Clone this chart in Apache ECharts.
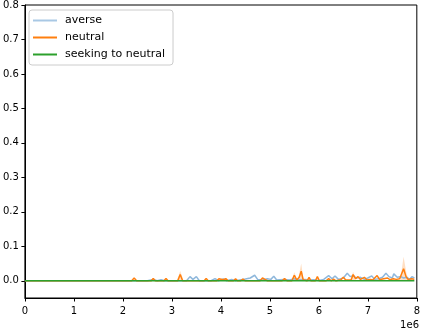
<!DOCTYPE html>
<html>
<head>
<meta charset="utf-8">
<script src="https://cdn.jsdelivr.net/npm/echarts@6/dist/echarts.min.js"></script>
<style>
html, body { margin: 0; padding: 0; background: #fff; }
#chart { width: 423px; height: 332px; }
</style>
</head>
<body>
<div id="chart"></div>
<script>
// x values in units of 1e6
var yTicks = [0, 0.1, 0.2, 0.3, 0.4, 0.5, 0.6, 0.7, 0.8];

var averse = [[0,0],[2.5,0],[2.62,0.004],[2.7,0],[2.78,0.003],[2.85,0],[3.3,0],[3.37,0.012],[3.43,0.004],
	[3.5,0.012],[3.56,0],[3.8,0],[3.88,0.006],[3.95,0],[4.05,0.005],[4.12,0],[4.22,0.004],[4.3,0],
	[4.5,0.005],[4.6,0.008],[4.69,0.016],[4.75,0.004],[4.85,0.002],[4.95,0.006],[5.02,0.004],[5.08,0.013],
	[5.14,0.002],[5.2,0.003],[5.3,0.004],[5.4,0.002],[5.5,0.006],[5.6,0.003],[5.72,0.004],[5.8,0.002],
	[5.9,0.003],[6.0,0.001],[6.1,0.004],[6.2,0.015],[6.27,0.006],[6.33,0.014],[6.4,0.004],[6.5,0.008],
	[6.58,0.022],[6.64,0.012],[6.7,0.015],[6.76,0.008],[6.85,0.01],[6.93,0.004],[7.0,0.008],[7.08,0.014],
	[7.14,0.004],[7.22,0.006],[7.3,0.01],[7.37,0.022],[7.43,0.012],[7.5,0.008],[7.53,0.02],[7.6,0.01],
	[7.67,0.012],[7.73,0.008],[7.8,0.01],[7.85,0.004],[7.9,0.012],[7.95,0.008]];

var neutral = [[0,0],[2.18,0],[2.23,0.008],[2.28,0],[2.58,0],[2.62,0.007],[2.66,0],[2.84,0],[2.88,0.007],
	[2.92,0],[3.12,0],[3.17,0.018],[3.22,0],[3.66,0],[3.7,0.007],[3.74,0],[3.92,0],[3.96,0.006],[4.0,0.008],
	[4.05,0.003],[4.1,0.006],[4.15,0],[4.26,0],[4.3,0.006],[4.34,0],[4.4,0],[4.45,0.005],[4.5,0],[4.8,0],
	[4.85,0.008],[4.9,0.004],[4.95,0],[5.25,0],[5.3,0.006],[5.35,0],[5.45,0],[5.5,0.016],[5.55,0.002],
	[5.6,0.01],[5.64,0.028],[5.68,0.003],[5.76,0],[5.8,0.01],[5.84,0],[5.93,0],[5.97,0.012],[6.01,0],
	[6.15,0],[6.2,0.006],[6.25,0],[6.3,0.005],[6.35,0],[6.45,0.003],[6.5,0.01],[6.55,0.002],[6.66,0.003],
	[6.7,0.018],[6.75,0.006],[6.8,0.012],[6.85,0.004],[6.93,0.01],[6.98,0.002],[7.05,0.004],[7.1,0.002],
	[7.19,0.015],[7.24,0.003],[7.3,0.005],[7.4,0.008],[7.45,0.003],[7.52,0.006],[7.58,0.004],[7.65,0.006],
	[7.73,0.035],[7.78,0.012],[7.82,0.004],[7.9,0.006],[7.95,0.004]];

// upper edge of the shaded band round the neutral line
var neutralBand = [[0,0],[3.1,0],[3.17,0.028],[3.24,0],[5.44,0],[5.5,0.025],[5.56,0],[5.6,0.02],
	[5.64,0.05],[5.69,0],[6.64,0],[6.7,0.026],[6.76,0],[7.66,0],[7.73,0.07],[7.79,0.02],[7.84,0],[7.95,0]];

var seeking = [[0,0],[3.96,0],[4.0,0.005],[4.04,0],[4.08,0.005],[4.12,0],[5.13,0],[5.17,0.005],[5.21,0],
	[7.29,0],[7.33,0.005],[7.37,0],[7.95,0]];

var chart = echarts.init(document.getElementById('chart'));

var font = 'DejaVu Sans';

var option = {
	animation: false,
	grid: {
		left: 24, right: 5, top: 4, bottom: 34,
		show: true, borderColor: '#000', borderWidth: 1
	},
	legend: {
		data: ['averse', 'neutral', 'seeking to neutral'],
		orient: 'vertical',
		left: 29, top: 10,
		itemWidth: 24, itemHeight: 2,
		itemGap: 6,
		padding: [5, 8, 5, 4],
		borderColor: '#ccc', borderWidth: 1, borderRadius: 3,
		icon: 'rect',
		textStyle: { fontFamily: font, fontSize: 11, color: '#000', padding: [0, 0, 0, 3] }
	},
	xAxis: {
		type: 'value',
		min: 0, max: 8, interval: 1,
		splitLine: { show: false },
		axisLine: { onZero: false, lineStyle: { color: '#000' } },
		axisTick: { show: true, length: 3.5, lineStyle: { color: '#000' } },
		axisLabel: { fontFamily: font, fontSize: 10, color: '#000', margin: 8 }
	},
	yAxis: {
		type: 'value',
		min: -0.05, max: 0.8,
		splitLine: { show: false },
		axisLine: { show: true, lineStyle: { color: '#000' } },
		axisTick: { show: true, length: 3.5, customValues: yTicks, lineStyle: { color: '#000' } },
		axisLabel: {
			fontFamily: font, fontSize: 10, color: '#000', margin: 6,
			customValues: yTicks,
			formatter: function (v) { return v.toFixed(1); }
		}
	},
	graphic: [{
		type: 'text', right: 4, bottom: 2,
		style: { text: '1e6', font: '10px DejaVu Sans', fill: '#000' }
	}],
	series: [
		{
			name: 'averse', type: 'line', data: averse,
			showSymbol: false, symbol: 'none',
			color: '#a9c8e4',
			lineStyle: { width: 1.5, color: '#8fb8dc' }
		},
		{
			name: 'neutral band', type: 'line', data: neutralBand,
			showSymbol: false, symbol: 'none',
			lineStyle: { width: 0 },
			areaStyle: { color: '#ff7f0e', opacity: 0.25 }
		},
		{
			name: 'neutral', type: 'line', data: neutral,
			showSymbol: false, symbol: 'none',
			color: '#ff7f0e',
			lineStyle: { width: 1.5, color: '#ff7f0e' }
		},
		{
			name: 'seeking to neutral', type: 'line', data: seeking,
			showSymbol: false, symbol: 'none',
			color: '#2ca02c',
			lineStyle: { width: 1.5, color: '#2ca02c' }
		}
	]
};

option && chart.setOption(option);
</script>
</body>
</html>
